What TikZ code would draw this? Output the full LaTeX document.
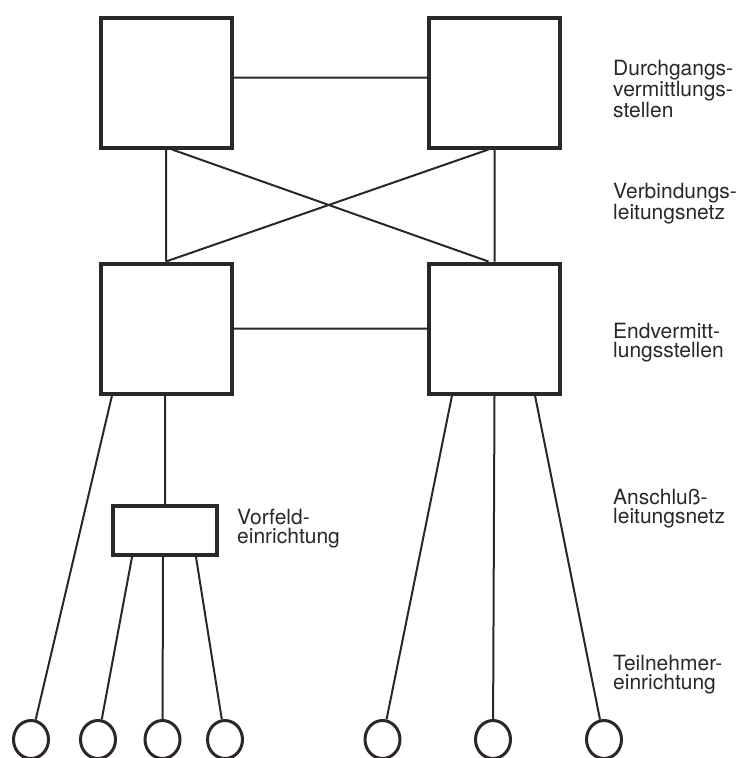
\documentclass[tikz,border=0pt]{standalone}
\usepackage{fontspec}
\setmainfont{TeX Gyre Heros}
\usetikzlibrary{positioning,shapes.geometric}

\definecolor{ink}{RGB}{45,38,38}

\tikzset{
    amt/.style    = {draw=ink, line width=4pt, inner sep=0pt, minimum width=131pt, minimum height=130pt},
    vorfeld/.style= {draw=ink, line width=4pt, inner sep=0pt, minimum width=104pt, minimum height=49pt},
    tln/.style    = {draw=ink, line width=3pt, ellipse, inner sep=0pt, minimum width=35pt, minimum height=38pt},
    ltg/.style    = {draw=ink, line width=2pt},
    lbl/.style    = {anchor=north west, inner sep=0pt, align=left, text=ink, font=\fontsize{21}{19}\selectfont}
}

\begin{document}
\begin{tikzpicture}[x=1pt, y=-1pt, on grid, node distance = 246pt and 328.5pt]
                \useasboundingbox (0,0) rectangle (738,758);

                % Vermittlungsstellen
                \node[amt]                  (dvl) at (166,82.5) {};
                \node[amt, right = of dvl]  (dvr)               {};
                \node[amt, below = of dvl]  (evl)               {};
                \node[amt, below = of dvr]  (evr)               {};
                \node[vorfeld]              (vf)  at (165,530.5) {};

                % Teilnehmer
                \node[tln] (t_1) at (31,739.5)  {};
                \node[tln] (t_2) at (98,739.5)  {};
                \node[tln] (t_3) at (162.5,739.5) {};
                \node[tln] (t_4) at (225,739.5) {};
                \node[tln] (t_5) at (382.5,739.5) {};
                \node[tln] (t_6) at (493,739.5) {};
                \node[tln] (t_7) at (604,739.5) {};

                % Beschriftung
                \node[lbl] (l_dv) at (613,60.3)  {Durchgangs-\\vermittlungs-\\stellen};
                \node[lbl] (l_vl) at (613,182.8) {Verbindungs-\\leitungsnetz};
                \node[lbl] (l_ev) at (613,322.8) {Endvermitt-\\lungsstellen};
                \node[lbl] (l_al) at (613,488.8) {Anschluß-\\leitungsnetz};
                \node[lbl] (l_tn) at (613,654.8) {Teilnehmer-\\einrichtung};
                \node[lbl] (l_vf) at (237,508.8) {Vorfeld-\\einrichtung};

                % Verbindungsleitungen
                \draw[ltg]
                    ([yshift=5pt]dvl.east) -- ([yshift=5pt]dvr.west)
                    (evl.east) -- (evr.west)
                    (dvl.south) -- (evl.north)
                    (dvr.south) -- (evr.north)
                    ([xshift=6pt]dvl.south) -- ([xshift=-6pt]evr.north)
                    ([xshift=-6pt]dvr.south) -- (evl.north)
                    ;

                % Anschlussleitungen
                \draw[ltg]
                    ([xshift=-54pt]evl.south) -- (t_1)
                    (vf.north |- evl.south) -- (vf.north)
                    ([xshift=-33pt]vf.south) -- (t_2)
                    ([xshift=-2pt]vf.south)  -- (t_3)
                    ([xshift=31pt]vf.south)  -- (t_4)
                    ([xshift=-42.5pt]evr.south) -- (t_5)
                    (evr.south) -- (t_6)
                    ([xshift=40.5pt]evr.south)  -- (t_7)
                    ;
\end{tikzpicture}
\end{document}
